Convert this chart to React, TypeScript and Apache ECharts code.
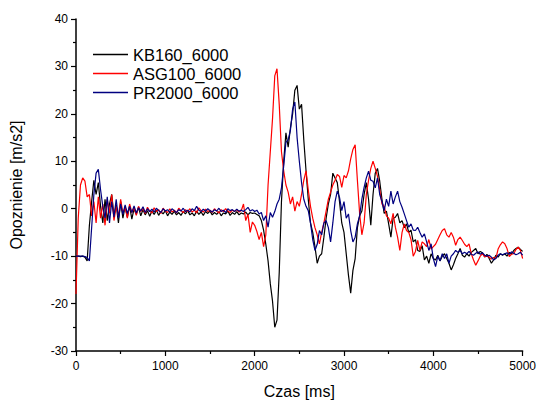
import React, { useEffect, useRef } from "react";
import * as echarts from "echarts";

// Sampling step of the recorded signals (ms)
const STEP_MS = 25;

const SERIES_NAMES = ["KB160_6000", "ASG100_6000", "PR2000_6000"];
const SERIES_COLORS = ["#000000", "#ff0000", "#000080"];

// KB160_6000 — one value every 25 ms, 0..5000 ms
const KB160 = [
  -10, -10, -10.1, -10, -10.2, -11, -3.5, 1.5, 6, 3, 5.5, 0.5, -3, 2, -2.5, 1, 3, -1.5, 0.8, -3,
  1.5, -2, 0.5, -1.8, 0.6, -2.2, 0, -1.2, 0.3, -1.5, -0.2, -1.3, -0.4, -1.6, -0.5, -1.2, -0.3, -1.4, -0.6, -1.1,
  -0.4, -1.5, -0.7, -1.2, -0.5, -1.3, -0.8, -1.4, -0.6, -1.1, -0.4, -1.3, -0.9, -1.5, -0.5, -1.2, -0.7, -1.4, -0.6, -1.0,
  -0.5, -1.3, -0.8, -1.2, -0.6, -1.5, -0.9, -1.1, -0.5, -1.4, -0.8, -1.2, -0.6, -1.3, -0.9, -1.1, -0.7, -1.3, -0.8, -1.0,
  -0.9, -1.2, -1.5, -2.5, -4.5, -7.5, -11, -15.8, -19.5, -25, -23.5, -13.5, 1.5, 10, 16, 13, 17, 20, 25, 26,
  21, 22, 14.5, 8, 2, -3, -5, -8, -11.5, -10, -9.5, -6, -2, 1, 3, 7.5, 6.5, 5.5, 1.5, -3,
  -5, -9.5, -14, -17.8, -13, -10.5, -4, -1.5, -0.5, 3, 5.5, 2, -3.5, 3, 7.5, 8.5, 5.8, 2, -1, -0.5,
  -3.2, -6, -2, -1.8, -1, -3, -2.5, -4, -3.2, -5, -4.5, -7, -6.5, -8.8, -9, -7.8, -10.8, -10, -11.5, -9.5,
  -10.5, -10.8, -9.8, -11, -10, -9.5, -10.5, -11.5, -12.9, -11.8, -10.5, -9.5, -8.4, -9.8, -10.2, -9.5, -10, -9.2, -8.8, -8.4,
  -9.5, -9, -9.3, -10.2, -9.6, -10.5, -11.5, -10.8, -9.8, -10.2, -9.5, -9.8, -9.5, -10, -9.2, -9.6, -8.8, -8.4, -8.1, -8.6,
  -9,
];

// ASG100_6000
const ASG100 = [
  -18, -2, 5, 6.5, 5.8, 2.5, 3, -1.5, 1.5, -3, 2.5, -2, 1, -3.5, 2, -1, 3, -2.5, 0.5, -1.5,
  2, -1, 0.3, -2, 1, -0.8, 0.2, -1.4, 0.5, -0.6, 0.1, -1.0, 0.3, -0.5, -0.9, 0.2, -0.6, -0.2, -1.0, 0.1,
  -0.5, -0.8, 0, -0.7, -0.3, -0.9, 0.1, -0.4, -0.8, -0.2, -0.6, 0, -0.7, -0.3, -0.9, 0.2, -0.4, -0.7, -0.1, -0.6,
  -0.3, -0.8, 0, -0.5, -0.9, -0.2, -0.6, 0, -0.5, -0.8, -0.3, -0.6, -0.2, -0.7, -0.4, 1, -2.5, -1.2, -5, -2.8,
  -3.5, -4.8, -6.5, -5, -8, -5.5, 5, 12, 19, 28, 29.5, 22, 12, 8, 5, 3.5, 1, 2.5, -0.5, 1.5,
  0.5, 3, 6, 8, 4, 0.5, -2, -4, -5.5, -7.4, -5, -3, -0.5, 2, 3.5, 5, 6, 7.2, 6.8, 4.5,
  7, 6.5, 8, 10.5, 12.5, 13.5, 6, -1, -5.5, -3, 3, 6, 8.5, 10, 8.5, 6.8, 4, 1, 0.5, -1.5,
  -2, -3.2, -1, -3.9, -6, -8.8, -5, -3.2, -4.6, -5, -6.5, -10, -9, -6.7, -8.8, -7, -7.4, -8, -6.5, -8.5,
  -8, -7.5, -6.5, -5.5, -4.6, -4.2, -5.5, -6, -5, -6, -7.7, -6.5, -6, -6.7, -7.5, -8, -7.4, -9.5, -10.8, -11.9,
  -11, -10, -9.5, -10.1, -10, -10.2, -10.6, -10.3, -10.5, -8.5, -7.6, -7, -7.4, -8.4, -10.1, -9.6, -9.5, -8.6, -8.1, -8.8,
  -10.5,
];

// PR2000_6000
const PR2000 = [
  -10, -10, -10, -10, -10.1, -10.3, -11, -4, 3, 7.5, 8.3, 4, 0.5, -2, 2.5, -3, 1.5, -1.8, 2, -2,
  1, -1.2, 0.8, -1, 0.5, -0.8, 0.6, -0.9, 0.2, -0.5, 0.4, -0.8, 0, -0.6, -0.1, -0.7, 0.1, -0.4, -0.8, 0,
  -0.5, -0.2, -0.7, 0, -0.4, -0.8, -0.2, -0.5, 0.1, -0.6, -0.3, -0.7, 0, -0.4, 0.5, -0.3, -0.6, -0.1, -0.5, 0,
  -0.4, -0.7, -0.2, -0.5, 0.1, -0.6, -0.3, -0.8, 0, -0.4, -0.2, -0.6, -0.1, -0.5, -0.3, -0.6, -0.2, 0.3, -0.5, -0.2,
  -0.6, -0.3, -1.1, -0.8, -2.5, -1.5, -3.9, -0.8, -1.8, -0.6, 1, 2, 4.4, 9, 14, 14.5, 16.5, 21, 22.5, 15,
  10, 5.5, 2, 0.5, -0.4, -3, -6.5, -8.8, -7.5, -4.6, -5.5, -3, -2.5, -4, -7, -3, 1.5, 3.7, 2.4, -0.4,
  1.5, -2, -1.1, -4.6, -7, -6, -3.2, -1.5, 2, 4.5, 6.5, 7.9, 6, 5.8, 4.4, 6.5, 3, 1.5, -0.4, 2,
  0.5, 3.7, 1, 2.5, 3.7, 1.5, 0.3, -1.1, -2.5, -3.9, -3.2, -4.5, -4.6, -3.9, -5, -6, -5.3, -7, -8.8, -7.4,
  -10.5, -12.2, -10, -11, -9.5, -10.5, -9.5, -11.5, -10, -9.5, -8.8, -9.2, -8.8, -9.5, -9.2, -9.5, -9, -9.6, -9.8, -9.4,
  -9.1, -9.6, -9.3, -9.8, -10, -9.8, -10.2, -10.8, -10.5, -9.8, -9.5, -9.7, -9.5, -9.3, -9.6, -9.1, -9.4, -9.7, -9.5, -9.2,
  -9.8,
];

const SERIES_VALUES = [KB160, ASG100, PR2000];

const X_MIN = 0;
const X_MAX = 5000;
const X_INTERVAL = 1000;
const Y_MIN = -30;
const Y_MAX = 40;
const Y_INTERVAL = 10;

const X_TITLE = "Czas [ms]";
const Y_TITLE = "Opoznienie [m/s2]";

const FONT = "'Liberation Sans', Arial, Helvetica, sans-serif";

function toPairs(values: number[]): [number, number][] {
  return values.map((v, i) => [i * STEP_MS, v]);
}

export default function App() {
  const ref = useRef<HTMLDivElement>(null);

  useEffect(() => {
    if (!ref.current) return;
    const chart = echarts.init(ref.current, null, { renderer: "svg" });

    const axisCommon = {
      axisLine: { show: true, onZero: false, lineStyle: { color: "#000", width: 1.5 } },
      axisTick: { show: true, inside: false, length: 5, lineStyle: { color: "#000", width: 1.2 } },
      minorTick: { show: true, splitNumber: 2, length: 3, lineStyle: { color: "#000", width: 1.2 } },
      splitLine: { show: false },
      minorSplitLine: { show: false },
      axisLabel: {
        color: "#000",
        fontSize: 12,
        fontFamily: FONT,
        formatter: (v: number) => String(v),
      },
      nameTextStyle: { color: "#000", fontSize: 16, fontFamily: FONT },
    };

    chart.setOption({
      animation: false,
      backgroundColor: "#ffffff",
      grid: { left: 74, right: 14, top: 19, bottom: 49, containLabel: false },
      legend: {
        orient: "vertical",
        left: 88,
        top: 41,
        icon: "rect",
        itemWidth: 35,
        itemHeight: 1.5,
        itemGap: 2,
        data: SERIES_NAMES,
        textStyle: { color: "#000", fontSize: 16.5, fontFamily: FONT, lineHeight: 17 },
      },
      xAxis: {
        type: "value",
        min: X_MIN,
        max: X_MAX,
        interval: X_INTERVAL,
        name: X_TITLE,
        nameLocation: "middle",
        nameGap: 32,
        ...axisCommon,
        axisLabel: { ...axisCommon.axisLabel, margin: 9 },
      },
      yAxis: {
        type: "value",
        min: Y_MIN,
        max: Y_MAX,
        interval: Y_INTERVAL,
        name: Y_TITLE,
        nameLocation: "middle",
        nameGap: 52,
        ...axisCommon,
        axisLabel: { ...axisCommon.axisLabel, margin: 8 },
      },
      series: SERIES_NAMES.map((name, k) => ({
        name,
        type: "line",
        data: toPairs(SERIES_VALUES[k]),
        showSymbol: false,
        symbol: "none",
        lineStyle: { color: SERIES_COLORS[k], width: 1.2 },
        itemStyle: { color: SERIES_COLORS[k] },
        z: 2 + k,
      })),
    });

    return () => chart.dispose();
  }, []);

  return (
    <div
      ref={ref}
      style={{ position: "fixed", left: 0, top: 0, width: 539, height: 404, background: "#fff" }}
    />
  );
}
